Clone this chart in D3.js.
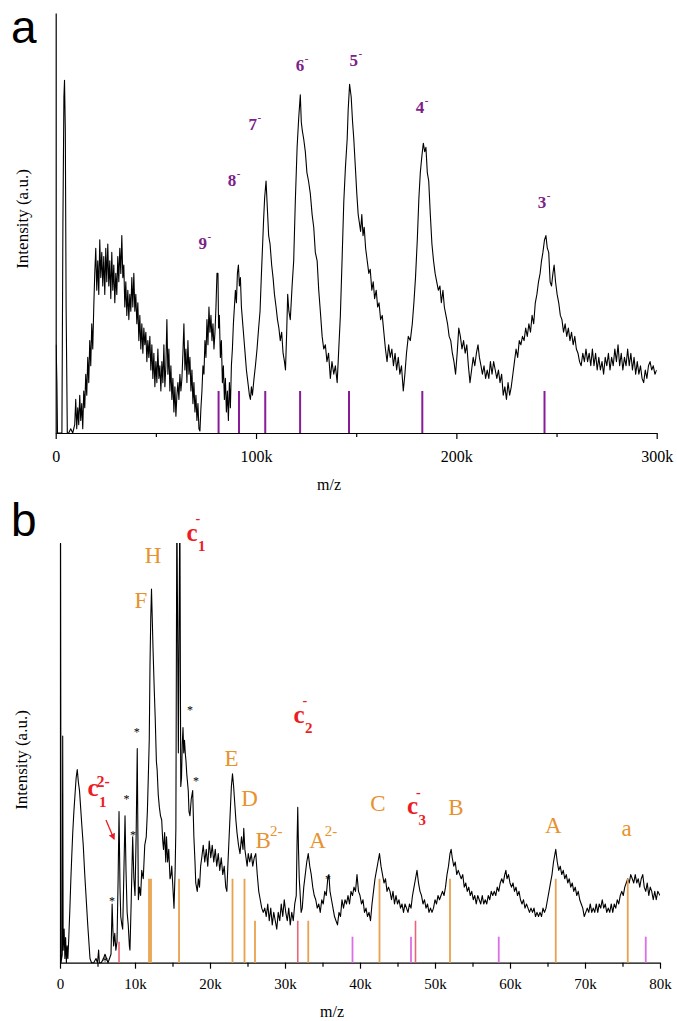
<!DOCTYPE html>
<html>
<head>
<meta charset="utf-8">
<script src="https://cdn.jsdelivr.net/npm/d3@7"></script>
<style>
  body { margin: 0; background: #fff; }
</style>
</head>
<body>
<script>
// ---- panel a : whole spectrum, m/z in k ----
const specA = [[0.2,21],[0.6,12],[0.9,0],[3.1,0],[3.6,50],[4.1,80],[4.4,84],[4.8,72],[5.2,30],[5.8,0],
  [6.5,0],[7.5,1],[8.5,0],[9.5,2],[10,8],[10.5,1],[11,6],[11.5,2],[12,9],[12.5,3],[13,7],[13.5,1],
  [14,10],[14.5,6],[15,14],[15.5,9],[16,18],[16.5,12],[17,22],[17.5,16],[18,26],[18.5,20],[19,30],
  [19.5,38],[20,44],[20.5,34],[21,41],[21.5,33],[22,46],[22.5,37],[23,43],[23.5,35],
  [24,42],[24.5,33],[25,44],[25.5,36],[26,45],[26.5,35],[27,41],[27.5,32],[28,43],[28.5,34],[29,40],[29.5,31],
  [30,38],[30.5,33],[31,42],[31.5,36],[32,44],[32.5,38],[33,47],[33.5,37],
  [34,40],[34.5,30],[35,36],[35.5,28],[36,34],[36.5,27],[37,33],[37.5,29],[38,37],[38.5,30],[39,38],[39.5,29],[40,33],
  [40.5,26],[41,31],[41.5,22],[42,28],[42.5,20],[43,26],[43.5,19],[44,25],[44.5,21],[45,24],[45.5,17],[46,22],[46.5,18],[47,23],
  [47.5,15],[48,21],[48.5,13],[49,19],[49.5,11],[50,17],[50.5,12],[51,20],[51.5,13],[52,16],[52.5,10],[53,17],[53.5,12],[54,21],[54.5,11],[55,16],
  [55.5,27],[56,14],[56.5,20],[57,10],[57.5,16],[58,8],[58.5,13],[59,5],[59.5,11],[60,4],[60.5,9],
  [61,12],[61.5,8],[62,14],[62.5,10],[63,13],[63.5,19],[64,26],[64.5,15],[65,20],[65.5,12],[66,22],[66.5,14],[67,18],[67.5,10],
  [68,15],[68.5,7],[69,12],[69.5,5],[70,9],[70.5,3],[71,7],[71.5,1],[72,0.5],[72.5,6],
  [73,10],[73.5,16],[74,14],[74.5,22],[75,18],[75.5,27],[76,21],[76.5,30],[77,24],[77.5,28],[78,22],[78.5,26],[79,20],[79.5,24],[80,30],[80.5,38],
  [81,38],[81.3,25],[81.7,28],[82.2,18],[82.7,22],[83.2,12],[83.7,16],[84.2,8],[84.7,13],[85.2,5],[85.7,10],[86.2,3],[86.7,12],[87.2,6],[87.7,16],[88.2,20],[88.7,26],
  [89.2,30],[89.7,34],[90.2,31],[90.7,38],[91.2,40],[91.7,35],[92.2,37],[92.7,30],[93.2,27],
  [93.7,24],[94.2,21],[94.7,18],[95.2,15],[95.7,13],[96.2,11],[96.7,9],[97.2,8],[97.7,11],[98.2,9],[99,13],[99.7,16],
  [100.5,20],[101.3,25],[102,29],[102.7,38],[103.3,45],[103.8,51],[104.3,56],[105,60],[105.6,54],
  [106.3,47],[107,45],[107.8,40],[108.5,37],[109.2,33],[110,30],[110.7,27],[111.4,25],[112.1,22],[112.8,24],[113.5,19],[114.2,17],[114.7,15],[115.3,24],[115.8,33],[116.4,29],[117.1,27],
  [118,35],[118.8,41],[119.6,55],[120.5,68],[121.3,75],[122.1,80.5],[122.6,74],[123.1,72],[123.8,70],[124.6,67],[125.4,62],[126.2,60],[127.1,57],[128,52],[128.8,49],[129.6,43],[130.5,41],
  [131.3,34],[132.1,29],[133,23],[133.8,20],[134.6,21],[135.4,17],[136.2,19],[137.1,13],[137.9,17],[138.8,14],[139.6,16],[140.5,12],[141.3,20],[142.1,28],[143,42],[143.8,55],[144.6,63],[145.5,70],[146,77],[146.7,83],
  [147.5,80],[148.2,74],[148.8,70],[149.5,64],[150.3,57],[151,52],[151.6,50],[152.2,48],[152.8,52],[153.4,47],[154,49],[154.7,44],[155.5,41],[156.3,38],[157,39],[157.8,34],[158.5,36],[159.2,32],[160,34],
  [160.7,30],[161.4,31],[162.2,27],[163,28],[163.8,24],[164.6,20],[165.4,17],[166.2,21],[167,18],[167.8,20],[168.6,16],[169.4,19],[170.2,15],[171,18],[171.8,14],[172.6,16],[173.5,10],[174.3,14],[175.1,19],
  [176,23],[177,22],[178,26],[178.8,31],[179.6,37],[180.5,46],[181.3,56],[182,62],[182.8,66],[183.5,69],[184.2,67],[184.8,68],[185.5,62],[186.2,60],[187,52],[187.8,45],[188.6,41],[189.4,38],[190.2,36],
  [191,34],[191.8,35],[192.5,31],[193.3,34],[194,30],[194.8,28],[195.6,26],[196.4,23],[197.2,22],[198,19],[198.8,17],[199.6,14],[200.4,19],[201.2,25],[202,23],[202.8,20],[203.6,22],[204.4,19],[205.2,21],
  [206,16],[206.8,12],[207.6,15],[208.4,18],[209.2,16],[210,19],[210.8,21],[211.5,18],[212.3,16],[213,14],[213.8,16],[214.6,13],[215.4,15],[216.2,13],[217,17],[217.8,14],[218.6,17],[219.4,15],[220.2,13],
  [221,15],[221.8,12],[222.6,14],[223.4,9],[224.2,11],[225,8],[225.8,12],[226.6,9],[227.4,11],[228.2,14],[229,17],[229.8,20],[230.6,18],[231.4,22],[232.2,21],[233,23],[233.8,22],[234.6,25],[235.4,23],
  [236.2,26],[237,24],[237.8,28],[238.6,26],[239.4,31],[240.2,33],[241,36],[241.8,38],[242.5,41],[243.2,43],[244,46],[244.7,47],[245.4,44],[246.1,43],[246.8,36],[247.5,35],[248.2,38],[248.8,40],[249.5,36],
  [250.3,33],[251.1,31],[251.9,28],[252.7,27],[253.5,24],[254.3,26],[255.1,23],[255.9,25],[256.7,22],[257.5,24],[258.3,21],[259.1,23],[259.9,20],[260.7,19],[261.5,17],[262.3,16],[263.1,19],[263.9,17],
  [264.7,20],[265.5,17],[266.3,19],[267.1,16],[267.9,20],[268.7,16],[269.5,19],[270.3,15],[271.1,18],[271.9,15],[272.7,17],[273.5,14],[274.3,18],[275.1,16],[275.9,19],[276.7,15],[277.5,18],[278.3,16],
  [279.1,20],[279.9,17],[280.7,21],[281.5,16],[282.3,19],[283.1,15],[283.9,18],[284.7,16],[285.5,20],[286.3,16],[287.1,19],[287.9,15],[288.7,18],[289.5,14],[290.3,17],[291.1,14],[291.9,16],[292.7,13],
  [293.5,12],[294.3,15],[295.1,13],[295.9,16],[296.7,17],[297.5,15],[298.3,16],[299.1,14],[300,15]];
const ionMzA = [81.3, 91.5, 104.6, 122.0, 146.4, 183.0, 244.0];
const ionStickA = 10;
const chargeA = ["9", "8", "7", "6", "5", "4", "3"];
const chargePosA = [[73.4,45.2],[88.0,60.2],[98.4,73.6],[122.0,87.6],[148.8,88.8],[181.9,77.7],[242.7,54.9]];
const ticksA = [0, 100, 200, 300];
const minorA = [50, 150, 250];

// ---- panel b : low m/z region ----
const specB = [[0,0],[0.06,110],[0.14,0],[0.3,2],[0.36,54],[0.42,3],[0.55,8],[0.65,1],[0.75,6],[0.85,0],[0.95,4],[1.05,1],[1.15,5],
  [1.3,12],[1.45,20],[1.56,25],[1.7,31],[1.85,36],[2.0,40],[2.15,44],[2.3,46],[2.45,43],[2.6,41],[2.75,37],[2.9,33],[3.1,28],[3.3,21],[3.5,15],[3.7,9],[3.85,5],[4.0,1],
  [4.2,0],[4.5,0],[4.8,1],[5.0,0],[5.15,3],[5.25,0],[5.5,0],[5.8,1],[6.0,2],[6.2,1],[6.4,0],[6.6,1],[6.8,2],[6.95,14],[7.05,8],[7.15,4],[7.3,7],[7.45,3],[7.6,5],
  [7.75,20],[7.87,36],[8.0,18],[8.1,11],[8.25,9],[8.36,8],[8.5,20],[8.67,35],[8.8,22],[8.95,12],[9.1,9],[9.25,4],[9.33,3],[9.5,15],[9.69,30],[9.85,20],[10.0,16],[10.15,30],[10.3,51],[10.45,15],
  [10.6,18],[10.75,16],[10.9,22],[11.1,20],[11.3,28],[11.5,30],[11.65,36],[11.8,46],[11.9,53],[12.0,71],[12.1,82],[12.2,89],[12.3,82],[12.4,75],[12.55,66],[12.7,58],[12.85,48],[12.95,46],
  [13.1,40],[13.25,37],[13.4,35],[13.56,34],[13.7,29],[13.8,27],[13.95,31],[14.1,24],[14.2,30],[14.35,24],[14.5,27],[14.67,20],[14.8,21],[14.9,23],[15.02,19],[15.2,13],[15.35,22],[15.45,32],
  [15.58,110],[15.78,50],[15.98,110],[16.1,42],[16.2,44],[16.3,52],[16.4,56],[16.5,50],[16.6,53],[16.7,50],[16.8,48],[16.9,45],[17.0,43],[17.1,41],[17.2,36],[17.33,35],[17.5,39],[17.69,41],[17.85,30],
  [18.0,24],[18.1,19],[18.3,17],[18.45,20],[18.6,18],[18.75,23],[18.9,25],[19.1,28],[19.3,24],[19.5,27],[19.7,23],[19.9,29],[20.1,25],[20.3,28],[20.5,24],[20.7,27],[20.9,23],[21.1,26],[21.3,22],
  [21.5,25],[21.7,21],[21.9,23],[22.1,18],[22.25,17],[22.4,24],[22.55,30],[22.7,36],[22.85,42],[23.0,45],[23.15,42],[23.3,38],[23.45,34],[23.6,31],[23.8,28],[24.0,26],[24.2,30],[24.4,27],[24.5,32],
  [24.65,27],[24.8,25],[24.95,23],[25.1,26],[25.3,24],[25.5,26],[25.7,23],[25.9,25],[26.1,26],[26.3,21],[26.5,17],[26.7,15],[26.9,13],[27.1,12],[27.3,13],
  [27.5,11],[27.7,14],[27.9,10],[28.1,13],[28.3,9],[28.5,12],[28.7,10],[28.9,8],[29.1,12],[29.3,10],[29.5,14],[29.7,11],[29.9,15],[30.1,12],[30.3,10],[30.5,13],[30.7,9],[30.9,12],[31.1,10],[31.3,14],
  [31.5,16],[31.6,28],[31.7,37],[31.8,27],[31.9,20],[32.0,17],[32.15,12],[32.3,13],[32.5,18],[32.7,21],[32.9,24],[33.1,26],[33.3,23],[33.5,21],[33.7,18],[33.9,16],[34.1,15],[34.3,13],[34.5,14],
  [34.7,12],[34.9,15],[35.1,14],[35.3,17],[35.5,16],[35.7,20],[35.85,21],[36.0,17],[36.2,15],[36.4,13],[36.6,11],[36.8,10],[37.0,9],[37.2,12],[37.4,11],[37.6,15],[37.8,13],[38.0,15],[38.2,14],
  [38.4,16],[38.6,14],[38.8,17],[39.0,16],[39.2,18],[39.4,17],[39.6,21],[39.8,17],[40.0,16],[40.2,14],[40.4,15],[40.6,12],[40.8,13],[41.0,11],[41.2,12],[41.4,10],[41.6,14],[41.8,17],[42.0,20],
  [42.2,22],[42.4,24],[42.6,26],[42.8,23],[43.0,21],[43.2,19],[43.4,20],[43.6,17],[43.8,18],[44.0,17],[44.2,15],[44.4,17],[44.6,14],[44.8,16],[45.0,14],[45.2,15],[45.4,13],[45.6,14],[45.8,12],
  [46.0,14],[46.2,13],[46.4,12],[46.6,14],[46.8,13],[47.0,16],[47.2,18],[47.4,20],[47.6,22],[47.8,19],[48.0,17],[48.2,16],[48.4,14],[48.6,15],[48.8,13],[49.0,14],[49.2,12],[49.4,13],[49.6,12],
  [49.8,13],[50.0,15],[50.2,14],[50.4,16],[50.6,15],[50.8,16],[51.0,17],[51.2,16],[51.4,18],[51.6,21],[51.8,23],[52.0,26],[52.15,27],[52.3,25],[52.5,23],[52.7,24],[52.9,21],[53.1,22],[53.3,21],
  [53.5,20],[53.7,21],[53.9,18],[54.1,19],[54.3,17],[54.5,18],[54.7,16],[54.9,17],[55.1,15],[55.3,16],[55.5,14],[55.7,16],[55.9,15],[56.1,14],[56.3,16],[56.5,14],[56.7,15],[56.9,14],[57.1,16],
  [57.3,15],[57.5,17],[57.7,16],[57.9,17],[58.1,16],[58.3,18],[58.5,17],[58.7,19],[58.9,20],[59.1,19],[59.3,21],[59.45,22],[59.6,20],[59.8,21],[60.0,19],[60.2,18],[60.4,19],[60.6,17],[60.8,18],
  [61.0,16],[61.2,17],[61.4,15],[61.6,14],[61.8,15],[62.0,13],[62.2,14],[62.4,13],[62.6,12],[62.8,13],[63.0,12],[63.2,13],[63.4,11],[63.6,12],[63.8,11],[64.0,12],[64.2,11],[64.4,13],[64.6,12],
  [64.8,13],[65.0,15],[65.2,17],[65.4,19],[65.6,21],[65.8,24],[66.0,26],[66.1,27],[66.3,24],[66.5,22],[66.7,23],[66.9,21],[67.1,22],[67.3,20],[67.5,21],[67.7,19],[67.9,20],[68.1,18],[68.3,19],
  [68.5,17],[68.7,18],[68.9,16],[69.1,17],[69.3,15],[69.5,14],[69.7,13],[69.9,11],[70.1,12],[70.3,13],[70.5,12],[70.7,14],[70.9,12],[71.1,13],[71.3,12],[71.5,14],[71.7,12],[71.9,14],[72.1,13],
  [72.3,15],[72.5,13],[72.7,14],[72.9,12],[73.1,13],[73.3,12],[73.5,14],[73.7,12],[73.9,14],[74.1,13],[74.3,15],[74.5,14],[74.7,16],[74.9,17],[75.1,16],[75.3,18],[75.5,19],[75.7,20],[75.9,19],
  [76.1,21],[76.3,20],[76.5,19],[76.7,21],[76.9,19],[77.1,20],[77.3,18],[77.5,20],[77.7,21],[77.9,18],[78.1,17],[78.3,19],[78.5,16],[78.7,18],[78.9,17],[79.1,15],[79.3,17],[79.5,15],[79.7,17],[80.0,16]];
const orangeSticksB = [[11.87,20],[12.13,20],[15.87,20],[23.0,20],[24.6,20],[26.0,10],[33.1,10],[42.6,20],[52.0,20],[66.1,20],[75.7,20]];
const redSticksB = [[7.87,5],[31.7,10],[47.4,10]];
const violetSticksB = [[39.0,6.2],[46.8,6.2],[58.5,6.2],[78.1,6.2]];
const orangeLabelsB = [
  {t: "H", mz: 12.4, i: 97.1}, {t: "F", mz: 10.8, i: 86.5}, {t: "E", mz: 22.87, i: 48.9},
  {t: "D", mz: 25.27, i: 39.2}, {t: "B", sup: "2-", mz: 27.1, i: 29.2}, {t: "A", sup: "2-", mz: 34.33, i: 29.2},
  {t: "C", mz: 42.4, i: 38.1}, {t: "B", mz: 52.8, i: 37.1}, {t: "A", mz: 65.77, i: 32.8}, {t: "a", mz: 75.56, i: 31.4}
];
const redLabelsB = [
  {sub: "1", sup: "-", mz: 17.6, i: 101.9}, {sub: "2", sup: "-", mz: 31.87, i: 58.5},
  {sub: "3", sup: "-", mz: 47.0, i: 36.7}, {sub: "1", sup: "2-", mz: 4.4, i: 41}
];
const starsB = [[6.93,15.4],[8.87,39.7],[9.73,31.2],[10.23,55.7],[17.33,60.9],[18.13,44],[35.73,20.7],[6.0,1.1]];
const arrowB = [[6.13,34],[7.2,29.5]];
const ticksB = [0, 10, 20, 30, 40, 50, 60, 70, 80];
const minorB = [5, 15, 25, 35, 45, 55, 65, 75];

const SERIF = "'Liberation Serif', 'Times New Roman', serif";
const SANS = "'Liberation Sans', Arial, sans-serif";
const ORANGE = "#e8922e", ORANGE_STICK = "#e9a14c", RED = "#ed1c24", PINK = "#ea6475",
  VIOLET = "#dc6ee6", PURPLE = "#7d2188";

const svg = d3.select("body").append("svg").attr("width", 677).attr("height", 1021)
  .style("font-family", SERIF);
const fmtK = d => d === 0 ? "0" : d + "k";

function panel(id, xr, yr, xmax, ticks, minor, tickFont, tickPad) {
  const x = d3.scaleLinear().domain([0, xmax]).range(xr);
  const y = d3.scaleLinear().domain([0, 100]).range(yr);
  svg.append("clipPath").attr("id", id).append("rect")
    .attr("x", xr[0]).attr("y", yr[1]).attr("width", xr[1] - xr[0]).attr("height", yr[0] - yr[1] + 1);

  const ax = svg.append("g").attr("transform", "translate(0," + yr[0] + ")")
    .call(d3.axisBottom(x).tickValues(ticks).tickFormat(fmtK).tickSize(6).tickSizeOuter(0).tickPadding(tickPad));
  ax.attr("font-family", null).attr("font-size", null);
  ax.selectAll("text").style("font-family", SERIF).style("font-size", tickFont).attr("fill", "#000");
  const mx = svg.append("g").attr("transform", "translate(0," + yr[0] + ")")
    .call(d3.axisBottom(x).tickValues(minor).tickFormat("").tickSize(4).tickSizeOuter(0));
  mx.select(".domain").remove();
  svg.append("g").attr("transform", "translate(" + xr[0] + ",0)")
    .call(d3.axisLeft(y).tickValues([]).tickSizeOuter(0));
  svg.selectAll(".domain, .tick line").attr("stroke", "#000").attr("stroke-width", 1.2);
  return {x, y};
}

function spectrum(s, data, id) {
  svg.append("path").datum(data)
    .attr("clip-path", "url(#" + id + ")")
    .attr("fill", "none").attr("stroke", "#000").attr("stroke-width", 1.1)
    .attr("stroke-linejoin", "round")
    .attr("d", d3.line().x(d => s.x(d[0])).y(d => s.y(d[1])));
}

function sticks(s, data, color, w) {
  svg.append("g").selectAll("line").data(data).enter().append("line")
    .attr("x1", d => s.x(d[0])).attr("x2", d => s.x(d[0]))
    .attr("y1", s.y(0)).attr("y2", d => s.y(d[1]))
    .attr("stroke", color).attr("stroke-width", w);
}

// ===== panel a =====
const A = panel("clipA", [55.7, 656.7], [433, 13], 300, ticksA, minorA, "16px", 12);
spectrum(A, specA, "clipA");
sticks(A, ionMzA.map(m => [m, ionStickA]), "#8a1a99", 2);

chargeA.forEach((c, k) => {
  const cx = A.x(chargePosA[k][0]), cy = A.y(chargePosA[k][1]);
  const t = svg.append("text").attr("x", cx).attr("y", cy).attr("dy", "0.35em")
    .attr("text-anchor", "middle").style("font-size", "17px").style("font-weight", "bold")
    .attr("fill", PURPLE).text(c);
  const w = t.node().getComputedTextLength();
  svg.append("text").attr("x", cx + w / 2 + 0.5).attr("y", cy - 3)
    .style("font-size", "11px").style("font-weight", "bold").attr("fill", PURPLE).text("-");
});

svg.append("text").attr("x", 329).attr("y", 490).attr("text-anchor", "middle")
  .style("font-size", "16px").text("m/z");
svg.append("text").attr("transform", "translate(28,219) rotate(-90)").attr("text-anchor", "middle")
  .style("font-size", "17px").text("Intensity (a.u.)");
svg.append("text").attr("x", 11).attr("y", 43).style("font-family", SANS)
  .style("font-size", "46px").text("a");

// ===== panel b =====
const B = panel("clipB", [60, 660], [962.7, 543], 80, ticksB, minorB, "15px", 10);
spectrum(B, specB, "clipB");
sticks(B, orangeSticksB, ORANGE_STICK, 1.8);
sticks(B, redSticksB, PINK, 1.6);
sticks(B, violetSticksB, VIOLET, 1.8);

orangeLabelsB.forEach(l => {
  const cx = B.x(l.mz), cy = B.y(l.i);
  const t = svg.append("text").attr("x", cx).attr("y", cy)
    .attr("dy", l.t === "a" ? "0.23em" : "0.35em")
    .attr("text-anchor", "middle").style("font-size", "23px").attr("fill", ORANGE).text(l.t);
  if (l.sup) {
    const w = t.node().getComputedTextLength();
    svg.append("text").attr("x", cx + w / 2 - 1).attr("y", cy - 4)
      .style("font-size", "15px").attr("fill", ORANGE).text(l.sup);
  }
});

redLabelsB.forEach(l => {
  const cx = B.x(l.mz), cy = B.y(l.i);
  const t = svg.append("text").attr("x", cx).attr("y", cy).attr("dy", "0.23em")
    .attr("text-anchor", "middle").style("font-size", "25px").style("font-weight", "bold")
    .attr("fill", RED).text("c");
  const w = t.node().getComputedTextLength();
  svg.append("text").attr("x", cx + w / 2 + 0.5).attr("y", cy + 16)
    .style("font-size", "15px").style("font-weight", "bold").attr("fill", RED).text(l.sub);
  if (l.sup === "-") {
    svg.append("text").attr("x", cx + w / 2 - 2).attr("y", cy - 12)
      .style("font-size", "14px").style("font-weight", "bold").attr("fill", RED).text("-");
  } else {
    svg.append("text").attr("x", cx + w / 2 - 2).attr("y", cy - 4)
      .style("font-size", "16px").style("font-weight", "bold").attr("fill", RED).text(l.sup);
  }
});

svg.append("g").selectAll("text").data(starsB).enter().append("text")
  .attr("x", d => B.x(d[0])).attr("y", d => B.y(d[1])).attr("dy", "0.6em")
  .attr("text-anchor", "middle").style("font-size", "12px").attr("fill", "#000").text("*");

// red arrow pointing at c1 2-
svg.append("defs").append("marker").attr("id", "arr").attr("viewBox", "0 0 10 10")
  .attr("refX", 8).attr("refY", 5).attr("markerWidth", 5).attr("markerHeight", 5).attr("orient", "auto")
  .append("path").attr("d", "M0,0L10,5L0,10z").attr("fill", RED);
svg.append("line")
  .attr("x1", B.x(arrowB[0][0])).attr("y1", B.y(arrowB[0][1]))
  .attr("x2", B.x(arrowB[1][0])).attr("y2", B.y(arrowB[1][1]))
  .attr("stroke", RED).attr("stroke-width", 1.3).attr("marker-end", "url(#arr)");

svg.append("text").attr("x", 332).attr("y", 1017).attr("text-anchor", "middle")
  .style("font-size", "16px").text("m/z");
svg.append("text").attr("transform", "translate(27,760) rotate(-90)").attr("text-anchor", "middle")
  .style("font-size", "17px").text("Intensity (a.u.)");
svg.append("text").attr("x", 11).attr("y", 536).style("font-family", SANS)
  .style("font-size", "46px").text("b");
</script>
</body>
</html>
